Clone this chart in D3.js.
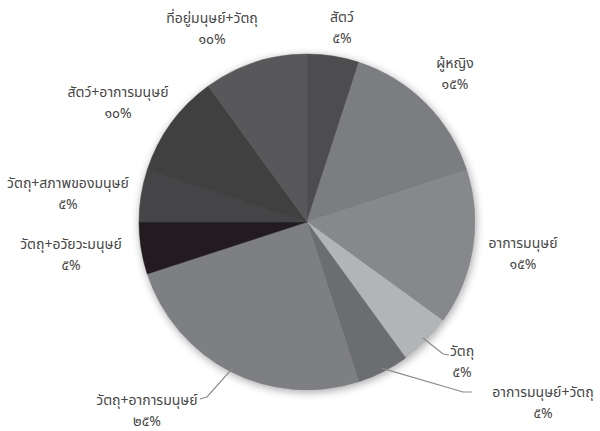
<!DOCTYPE html>
<html>
<head>
<meta charset="utf-8">
<script src="https://cdn.jsdelivr.net/npm/d3@7"></script>
<style>
  body { margin: 0; background: #fff; }
  text { font-family: "Noto Sans Thai", "Loma", "Garuda", "Norasi", "Tlwg Typo", "DejaVu Sans", sans-serif; fill: #464646; }
</style>
</head>
<body>
<div id="chart-area"></div>
<script>
    var categories = ['สัตว์', 'ผู้หญิง', 'อาการมนุษย์', 'วัตถุ', 'อาการมนุษย์+วัตถุ',
      'วัตถุ+อาการมนุษย์', 'วัตถุ+อวัยวะมนุษย์', 'วัตถุ+สภาพของมนุษย์', 'สัตว์+อาการมนุษย์', 'ที่อยู่มนุษย์+วัตถุ'];
    var values = [5, 15, 15, 5, 5, 25, 5, 5, 10, 10];
    var percentLabels = ['๕%', '๑๕%', '๑๕%', '๕%', '๕%', '๒๕%', '๕%', '๕%', '๑๐%', '๑๐%'];
    var sliceColors = ['#4e4e50', '#7c7d81', '#87888c', '#b3b4b7', '#6c6d71',
      '#7e7f83', '#231f20', '#444446', '#3f3f41', '#58585a'];

    var width = 600;
    var height = 431;
    var cx = 307;
    var cy = 222;
    var radius = 168;

    // label anchors (center of first line), placed by hand like the original
    var labelPos = [
      [342, 18], [455, 64], [523, 244], [462, 352], [543, 393],
      [147, 401], [71, 245], [68, 184], [118, 93], [212, 19]
    ];
    var lineGap = 21;
    // which slices get a leader line, and where the line ends
    var leaders = { 3: [[443, 354], [449, 355]], 4: [[463, 392], [472, 392]], 5: [[207, 397], [200, 399]] };

    var svg = d3.select('#chart-area')
      .append('svg')
      .attr('width', width)
      .attr('height', height);

    var defs = svg.append('defs');
    var filter = defs.append('filter').attr('id', 'shadow')
      .attr('x', '-20%').attr('y', '-20%').attr('width', '140%').attr('height', '140%');
    filter.append('feDropShadow')
      .attr('dx', 1).attr('dy', 2)
      .attr('stdDeviation', 4)
      .attr('flood-color', '#000')
      .attr('flood-opacity', 0.35);

    var g = svg.append('g').attr('transform', `translate(${cx},${cy})`);

    var pie = d3.pie().sort(null).value((d) => { return d; });
    var arcs = pie(values);
    var arc = d3.arc().innerRadius(0).outerRadius(radius);

    var pieG = g.append('g').attr('filter', 'url(#shadow)');
    pieG.selectAll('path')
      .data(arcs)
      .enter()
      .append('path')
      .attr('d', arc)
      .attr('fill', (d, i) => { return sliceColors[i]; })
      .attr('stroke', (d, i) => { return sliceColors[i]; })
      .attr('stroke-width', 0.5);

    // leader lines
    Object.keys(leaders).forEach((k) => {
      var i = +k;
      var a = (arcs[i].startAngle + arcs[i].endAngle) / 2;
      var sx = cx + Math.sin(a) * (radius - 4);
      var sy = cy - Math.cos(a) * (radius - 4);
      var pts = [[sx, sy]].concat(leaders[k]);
      svg.append('path')
        .attr('d', d3.line()(pts))
        .attr('fill', 'none')
        .attr('stroke', '#8a8a8a')
        .attr('stroke-width', 1.2);
    });

    var labels = svg.append('g');
    categories.forEach((c, i) => {
      var p = labelPos[i];
      labels.append('text')
        .attr('x', p[0]).attr('y', p[1])
        .attr('text-anchor', 'middle')
        .attr('dominant-baseline', 'middle')
        .attr('font-size', '14px')
        .text(c);
      labels.append('text')
        .attr('x', p[0]).attr('y', p[1] + lineGap)
        .attr('text-anchor', 'middle')
        .attr('dominant-baseline', 'middle')
        .attr('font-size', '14px')
        .text(percentLabels[i]);
    });
</script>
</body>
</html>
